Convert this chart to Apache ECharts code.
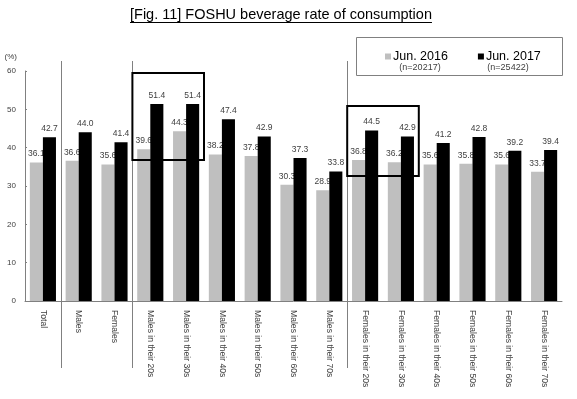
<!DOCTYPE html>
<html>
<head>
<meta charset="utf-8">
<script src="https://cdn.jsdelivr.net/npm/echarts@6/dist/echarts.min.js"></script>
<style>
html, body { margin: 0; padding: 0; background: #fff; }
#foshu { width: 577px; height: 399px; }
</style>
</head>
<body>
<div id="foshu"></div>
<script>
var categories = ['Total', 'Males', 'Females',
    'Males in their 20s', 'Males in their 30s', 'Males in their 40s',
    'Males in their 50s', 'Males in their 60s', 'Males in their 70s',
    'Females in their 20s', 'Females in their 30s', 'Females in their 40s',
    'Females in their 50s', 'Females in their 60s', 'Females in their 70s'];
var jun2016 = [36.1, 36.6, 35.6, 39.6, 44.3, 38.2, 37.8, 30.3, 28.9, 36.8, 36.2, 35.6, 35.8, 35.6, 33.7];
var jun2017 = [42.7, 44.0, 41.4, 51.4, 51.4, 47.4, 42.9, 37.3, 33.8, 44.5, 42.9, 41.2, 42.8, 39.2, 39.4];
var legendNames = ['Jun. 2016', 'Jun. 2017'];
var legendCounts = ['(n=20217)', '(n=25422)'];
var titleText = '[Fig. 11] FOSHU beverage rate of consumption';

// vertical group dividers come after these categories
var separatorsAfter = [0, 2, 8];
// highlight boxes: [first category, last category] and [top value, bottom value]
var boxCats = [[3, 4], [9, 10]];
var boxValues = [[59.5, 36.8], [50.9, 32.6]];

var FONT = "'Liberation Sans', Arial, sans-serif";

var chart = echarts.init(document.getElementById('foshu'));

function barLabel() {
    return {
        show: true,
        position: 'top',
        distance: 4,
        fontSize: 8.5,
        fontFamily: FONT,
        color: '#404040',
        formatter: function (p) { return p.value.toFixed(1); }
    };
}

var options = {
    animation: false,
    title: {
        text: titleText,
        left: 130,
        top: 7,
        padding: 0,
        textStyle: { fontSize: 14.5, fontWeight: 'normal', color: '#000', fontFamily: FONT }
    },
    legend: {
        data: legendNames,
        left: 385,
        top: 50,
        padding: 0,
        itemGap: 30,
        itemWidth: 6,
        itemHeight: 6,
        icon: 'rect',
        textStyle: { fontSize: 12.5, color: '#000', fontFamily: FONT, padding: [0, 0, 0, -3] }
    },
    grid: { left: 25, right: 15, top: 71, bottom: 98 },
    xAxis: {
        type: 'category',
        data: categories,
        axisLine: { lineStyle: { color: '#808080' } },
        axisTick: { show: false },
        axisLabel: {
            interval: 0,
            rotate: -90,
            margin: 9,
            fontSize: 8.6,
            fontFamily: FONT,
            color: '#404040'
        }
    },
    yAxis: {
        type: 'value',
        min: 0,
        max: 60,
        interval: 10,
        name: '(%)',
        nameLocation: 'end',
        nameGap: 10,
        nameTextStyle: { fontSize: 8, fontFamily: FONT, color: '#404040', align: 'right', padding: [0, 8, 0, 0] },
        splitLine: { show: false },
        axisLine: { show: true, lineStyle: { color: '#808080' } },
        axisTick: { show: true, inside: true, length: 2, lineStyle: { color: '#808080' } },
        axisLabel: { fontSize: 8, fontFamily: FONT, color: '#404040', margin: 9 }
    },
    series: [{
        name: legendNames[0],
        type: 'bar',
        data: jun2016,
        barGap: 0,
        barCategoryGap: '27%',
        itemStyle: { color: '#bfbfbf' },
        z: 2,
        label: barLabel()
    }, {
        name: legendNames[1],
        type: 'bar',
        data: jun2017,
        barGap: 0,
        barCategoryGap: '27%',
        itemStyle: { color: '#000' },
        z: 3,
        label: barLabel()
    }]
};

chart.setOption(options);

/// OVERLAYS (dividers, highlight boxes, legend frame) ///

function xAt(i) { return chart.convertToPixel({ xAxisIndex: 0 }, categories[i]); }
function yAt(v) { return chart.convertToPixel({ yAxisIndex: 0 }, v); }

var band = xAt(1) - xAt(0);
var yTop = yAt(60);
var yZero = yAt(0);
var graphics = [];

// group dividers
for (var i = 0; i < separatorsAfter.length; i++) {
    var sx = Math.round(xAt(separatorsAfter[i]) + band / 2) + 0.5;
    graphics.push({
        type: 'line',
        shape: { x1: sx, y1: yTop - 10, x2: sx, y2: yZero + 67 },
        style: { stroke: '#808080', lineWidth: 1 },
        z: 10
    });
}

// highlight boxes
for (var b = 0; b < boxCats.length; b++) {
    var bx1 = xAt(boxCats[b][0]) - band / 2;
    var bx2 = xAt(boxCats[b][1]) + band / 2;
    var by1 = yAt(boxValues[b][0]);
    var by2 = yAt(boxValues[b][1]);
    graphics.push({
        type: 'rect',
        shape: { x: bx1, y: by1, width: bx2 - bx1, height: by2 - by1 },
        style: { fill: 'none', stroke: '#000', lineWidth: 2 },
        z: 10
    });
}

// legend frame and sample sizes
graphics.push({
    type: 'rect',
    shape: { x: 356.5, y: 37.5, width: 206, height: 38 },
    style: { fill: 'none', stroke: '#808080', lineWidth: 1 },
    z: 10
});
var countX = [420, 508];
for (var c = 0; c < legendCounts.length; c++) {
    graphics.push({
        type: 'text',
        x: countX[c],
        y: 68,
        style: {
            text: legendCounts[c],
            font: '9px ' + FONT,
            fill: '#404040',
            align: 'center',
            verticalAlign: 'middle'
        },
        z: 10
    });
}

// title underline
var ctx = document.createElement('canvas').getContext('2d');
ctx.font = '14.5px ' + FONT;
var titleW = ctx.measureText(titleText).width;
graphics.push({
    type: 'line',
    shape: { x1: 130, y1: 22.5, x2: 130 + titleW, y2: 22.5 },
    style: { stroke: '#000', lineWidth: 1 },
    z: 10
});

chart.setOption({ graphic: graphics });
</script>
</body>
</html>
